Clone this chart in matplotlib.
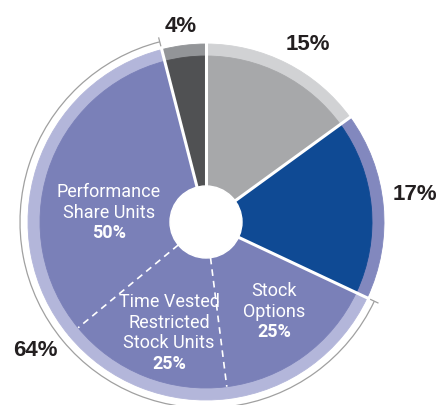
import numpy as np
import matplotlib
matplotlib.use("Agg")
import matplotlib.pyplot as plt
from matplotlib.patches import Circle, Arc

# ---- data ----
group_values = [15, 17, 64, 4]
sub_labels = ["Stock\nOptions", "Time Vested\nRestricted\nStock Units", "Performance\nShare Units"]
sub_values = [25, 25, 50]  # share of the 64% group

# ---- styling ----
inner_colors_grp = ["#a7a8aa", "#0f4a94", "#7a80b8", "#505153"]
ring_colors_grp = ["#d1d2d4", "#8288be", "#b3b6da", "#939598"]

W, H = 437, 406
fig = plt.figure(figsize=(W / 100, H / 100), dpi=100)
ax = fig.add_axes([0, 0, 1, 1])

cx, cy = 206, H - 223
R_out, R_in, R_hole = 178, 166, 36

slice_vals, slice_inner, slice_ring, is_sub = [], [], [], []
for gi, gv in enumerate(group_values):
    if gi == 2:
        for sv in sub_values:
            slice_vals.append(gv * sv / 100)
            slice_inner.append(inner_colors_grp[gi])
            slice_ring.append(ring_colors_grp[gi])
            is_sub.append(True)
    else:
        slice_vals.append(gv)
        slice_inner.append(inner_colors_grp[gi])
        slice_ring.append(ring_colors_grp[gi])
        is_sub.append(False)

wr, _ = ax.pie(slice_vals, radius=R_out, center=(cx, cy), startangle=90,
               counterclock=False, colors=slice_ring, frame=True)
for w, c in zip(wr, slice_ring):
    w.set_edgecolor(c); w.set_linewidth(0.6)
wi, _ = ax.pie(slice_vals, radius=R_in, center=(cx, cy), startangle=90,
               counterclock=False, colors=slice_inner, frame=True)
for w, c in zip(wi, slice_inner):
    w.set_edgecolor(c); w.set_linewidth(0.6)

ax.set_xlim(0, W)
ax.set_ylim(0, H)
ax.set_aspect("equal")
ax.axis("off")

# separators
total = sum(slice_vals)
cum = np.cumsum([0] + slice_vals)[:-1]
for i, c in enumerate(cum):
    ang = np.deg2rad(90 - 360 * c / total)
    dx, dy = np.cos(ang), np.sin(ang)
    if is_sub[i] and i > 0 and is_sub[i - 1]:
        ax.plot([cx + dx * R_hole, cx + dx * R_in], [cy + dy * R_hole, cy + dy * R_in],
                color="white", lw=1.2, ls=(0, (4, 3)), solid_capstyle="butt")
    else:
        ax.plot([cx, cx + dx * (R_out + 2)], [cy, cy + dy * (R_out + 2)],
                color="white", lw=2.2, solid_capstyle="butt")

ax.add_patch(Circle((cx, cy), R_hole, color="white", zorder=5))

# bracket around the 64% group
start = 360 * sum(group_values[:2]) / total
end = 360 * sum(group_values[:3]) / total
R_br = 186
ax.add_patch(Arc((cx, cy), 2 * R_br, 2 * R_br, theta1=90 - end, theta2=90 - start + 360,
                 color="#a0a0a0", lw=0.9))
for a in (start, end):
    t = np.deg2rad(90 - a)
    ax.plot([cx + np.cos(t) * (R_br - 4), cx + np.cos(t) * (R_br + 4)],
            [cy + np.sin(t) * (R_br - 4), cy + np.sin(t) * (R_br + 4)],
            color="#a0a0a0", lw=0.9)

# outer percentage labels
pct_pos = [(308, 45), (415, 195), (35, 351), (181, 27)]
for (x, y), v in zip(pct_pos, group_values):
    ax.text(x, H - y, f"{v}%", ha="center", va="center", fontsize=16,
            fontweight="bold", color="#231f20", family="Liberation Sans")

# inner labels
sub_pos = [(274, 312), (169, 333), (109, 213)]
for (x, y), lab, v in zip(sub_pos, sub_labels, sub_values):
    lines = lab.split("\n") + [f"{v}%"]
    lh = 20.5
    top = H - y + len(lines) * lh / 2
    for k, line in enumerate(lines):
        bold = k == len(lines) - 1
        ax.text(x, top - lh * (k + 0.5), line, ha="center", va="center",
                fontsize=13, color="white", family="Roboto",
                fontweight="bold" if bold else "normal", zorder=6)

fig.savefig("out.png", dpi=100)
